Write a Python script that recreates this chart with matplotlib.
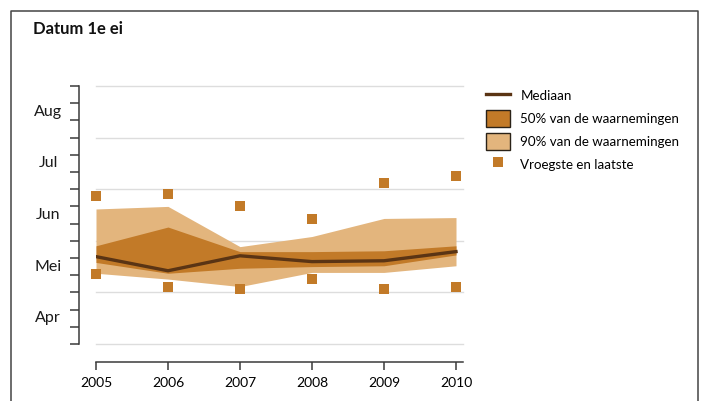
import numpy as np
import matplotlib
matplotlib.use("Agg")
import matplotlib.pyplot as plt
from matplotlib.lines import Line2D
from matplotlib.patches import Patch
import matplotlib.transforms as mtransforms

plt.rcParams['font.family'] = ['Lato', 'DejaVu Sans']

# ---- data (day of year) ----
years = [2005, 2006, 2007, 2008, 2009, 2010]
median = [142.5, 134, 143, 139.5, 140, 145.5]
p25 = [139, 132.5, 135.5, 136.5, 137, 143.5]
p75 = [149, 160, 145.5, 145.5, 146, 149]
p05 = [132.5, 129, 124.5, 133, 133, 137]
p95 = [170.5, 172, 148.5, 154.5, 165, 165.5]
earliest = [132, 124.5, 123, 129, 123, 124]
latest = [178, 179.5, 172, 164.5, 186, 190]

month_labels = ['Apr', 'Mei', 'Jun', 'Jul', 'Aug']
month_starts = [91, 121, 152, 182, 213, 244]  # Apr 1 .. Sep 1

title = 'Datum 1e ei'
legend_labels = ['Mediaan', '50% van de waarnemingen',
                 '90% van de waarnemingen', 'Vroegste en laatste']

# colours
c_light = '#E3B57D'
c_dark = '#C27A28'
c_med = '#5A3414'
c_grid = '#DDDDDD'
c_axis = '#3A3A3A'


def to_month(d):
    return np.interp(np.asarray(d, dtype=float), month_starts,
                     np.arange(len(month_starts)))


W, H, DPI = 702, 401, 100
fig = plt.figure(figsize=(W / DPI, H / DPI), dpi=DPI)
fig.patch.set_facecolor('white')

ax_l, ax_r, ax_t, ax_b = 96, 463, 86, 344
ax = fig.add_axes([ax_l / W, 1 - ax_b / H, (ax_r - ax_l) / W, (ax_b - ax_t) / H])

x = np.array(years, dtype=float)
ax.fill_between(x, to_month(p05), to_month(p95), color=c_light, lw=0, zorder=2)
ax.fill_between(x, to_month(p25), to_month(p75), color=c_dark, lw=0, zorder=3)
ax.plot(x, to_month(median), color=c_med, lw=2.4, zorder=4)
ax.plot(x, to_month(earliest), 's', color=c_dark, ms=6.5, mew=0, zorder=5, clip_on=False)
ax.plot(x, to_month(latest), 's', color=c_dark, ms=6.5, mew=0, zorder=5, clip_on=False)

ax.set_xlim(2005, 2010 + 7 / 72)
ax.set_ylim(0, 5)

# grid at month boundaries
for m in range(len(month_starts)):
    ax.axhline(m, color=c_grid, lw=1.0, zorder=1, clip_on=False)
ax.set_yticks(np.arange(0, 6))
ax.set_yticks(np.arange(0, 5.01, 1 / 3), minor=True)
ax.set_yticklabels([])
ax.tick_params(axis='y', which='both', direction='out', length=6.5, width=1.1,
               color=c_axis, left=True)

ax.set_xticks(years)
ax.set_xticklabels([str(y) for y in years], fontsize=9, color='#222222')
ax.tick_params(axis='x', direction='out', length=5.8, width=1.1, color=c_axis, pad=5)

for s in ['top', 'right']:
    ax.spines[s].set_visible(False)
ax.spines['left'].set_position(('outward', 12.2))
ax.spines['bottom'].set_position(('outward', 13.0))
for s in ['left', 'bottom']:
    ax.spines[s].set_color(c_axis)
    ax.spines[s].set_linewidth(1.1)

# month labels centred in month spans
trans = mtransforms.blended_transform_factory(fig.transFigure, ax.transData)
for i, lab in enumerate(month_labels):
    ax.text(48 / W, i + 0.5, lab, transform=trans, ha='center', va='center',
            fontsize=11.5, color='#1a1a1a')

# title
fig.text(33 / W, 1 - 29 / H, title, fontsize=12, fontweight='bold',
         ha='left', va='center', color='#111111')

# legend
handles = [
    Line2D([], [], color=c_med, lw=2.4),
    Patch(facecolor=c_dark, edgecolor='#2a2218', lw=1.0),
    Patch(facecolor=c_light, edgecolor='#2a2218', lw=1.0),
    Line2D([], [], marker='s', ls='none', color=c_dark, ms=6.5, mew=0),
]
fig.legend(handles, legend_labels, loc='upper left',
           bbox_to_anchor=(486 / W, 1 - 87.5 / H), frameon=False, fontsize=9.6,
           handlelength=1.8, handleheight=1.6, handletextpad=0.78,
           labelspacing=0.42, borderpad=0, borderaxespad=0)

# outer frame (left, top, right)
fx0, fx1, fy1 = 10.5 / W, 697.5 / W, 1 - 10.5 / H
fig.add_artist(Line2D([fx0, fx0, fx1, fx1], [0, fy1, fy1, 0],
                      transform=fig.transFigure, color='#444444', lw=1.1))

fig.savefig('out.png', dpi=DPI, facecolor='white')
